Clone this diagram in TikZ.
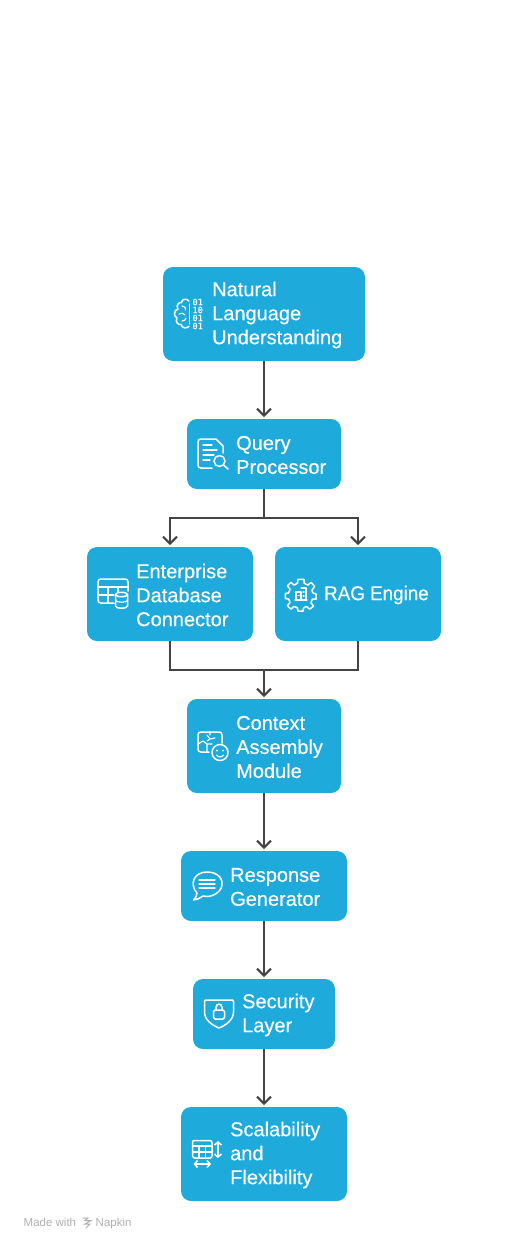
\documentclass[tikz,border=0pt]{standalone}
\usepackage{fontspec}
\setmainfont{Liberation Sans}
\newfontfamily\boxfont[FakeBold=0.3]{Liberation Sans}
\newfontfamily\digitfont[FakeBold=0.5]{DejaVu Sans Mono}
\usetikzlibrary{arrows.meta}
\definecolor{boxblue}{RGB}{30,171,219}
\definecolor{linegray}{RGB}{68,68,68}
\definecolor{footgray}{RGB}{176,176,176}
\tikzset{
  flowbox/.style={fill=boxblue,draw=none,rounded corners=10pt,inner sep=0pt,outer sep=0pt},
  boxtext/.style={text=white,anchor=west,align=left,inner sep=0pt,font=\boxfont\fontsize{20}{24}\selectfont},
  flow/.style={draw=linegray,line width=2pt},
  flowarrow/.style={flow,-{Straight Barb[length=7pt,width=14pt,line width=2pt]},shorten >=2pt},
  ico/.style={draw=white,line width=1.5pt,line cap=round,line join=round},
  icofine/.style={draw=white,line width=1.1pt,line cap=round,line join=round},
  digit/.style={text=white,inner sep=0pt,font=\digitfont\fontsize{8.6}{9}\selectfont},
  foot/.style={text=footgray,anchor=base west,inner sep=0pt,font=\fontsize{11.5}{12}\selectfont}
}
\newcommand{\flowbox}[6]{% name, x1, y1, x2, y2, unused
  \node[flowbox,minimum width=#4pt-#2pt,minimum height=#5pt-#3pt] (#1) at ({(#2+#4)/2},{(#3+#5)/2}) {};}
\begin{document}
\begin{tikzpicture}[x=1pt,y=-1pt]
\useasboundingbox[fill=white] (0,0) rectangle (528,1250);
% boxes
\flowbox{nlu}{163}{267}{365}{361}{}
\flowbox{qp}{187}{419}{341}{489}{}
\flowbox{edc}{87}{547}{253}{641}{}
\flowbox{rag}{275}{547}{441}{641}{}
\flowbox{cam}{187}{699}{341}{793}{}
\flowbox{rg}{181}{851}{347}{921}{}
\flowbox{sl}{193}{979}{335}{1049}{}
\flowbox{sf}{181}{1107}{347}{1201}{}
% texts
\node[boxtext] (tnlu) at (212,315) {Natural\\Language\\Understanding};
\node[boxtext] (tqp) at (236,455) {Query\\Processor};
\node[boxtext] (tedc) at (136,595) {Enterprise\\Database\\Connector};
\node[boxtext] (trag) at (324,595) {\scalebox{0.94}[1]{RAG Engine}};
\node[boxtext] (tcam) at (236,747) {Context\\Assembly\\Module};
\node[boxtext] (trg) at (230,887) {Response\\Generator};
\node[boxtext] (tsl) at (242,1015) {Security\\Layer};
\node[boxtext] (tsf) at (230,1155) {Scalability\\and\\Flexibility};
% connectors
\coordinate (split) at (264,518);
\coordinate (merge) at (264,670);
\draw[flowarrow] (nlu) -- (qp);
\draw[flow] (qp) -- (split);
\draw[flowarrow] (split) -| (edc);
\draw[flowarrow] (split) -| (rag);
\draw[flow] (edc) |- (merge);
\draw[flow] (rag) |- (merge);
\draw[flowarrow] (merge) -- (cam);
\draw[flowarrow] (cam) -- (rg);
\draw[flowarrow] (rg) -- (sl);
\draw[flowarrow] (sl) -- (sf);
% icon: brain and digits
\draw[ico] (189,301) .. controls (186,298) and (182,299) .. (181.5,302.5)
  .. controls (178,302) and (176,306) .. (178,309)
  .. controls (174,310) and (173,316) .. (177,318)
  .. controls (175,322) and (178,325) .. (181,324.5)
  .. controls (182,328) and (186,329) .. (189,326.5);
\draw[icofine] (189.5,304) -- (189.5,324);
\draw[icofine] (182,306) .. controls (185,306) and (186,308) .. (185.5,310)
  (179,314) .. controls (181,312.5) and (184,313) .. (185,315)
  (182,321) .. controls (184,321) and (186,320) .. (186,318);
\node[digit] (d1) at (197.7,302) {01};
\node[digit] (d2) at (197.7,310) {10};
\node[digit] (d3) at (197.7,318) {01};
\node[digit] (d4) at (197.7,326) {01};
% icon: document and magnifier
\draw[ico] (212,468) -- (201,468) .. controls (199,468) and (198,467) .. (198,465) -- (198,442)
  .. controls (198,440) and (199,439) .. (201,439) -- (216,439) -- (223,446) -- (223,453);
\draw[icofine] (203,445) -- (212,445) (203,450) -- (217,450) (203,455) -- (214,455) (203,460) -- (210,460);
\draw[ico] (219.5,461) circle[radius=5.5];
\draw[ico] (223.5,465) -- (228,469);
% icon: table and database
\draw[ico] (114,603) -- (101,603) .. controls (99,603) and (98,602) .. (98,600) -- (98,582)
  .. controls (98,580) and (99,579) .. (101,579) -- (125,579) .. controls (127,579) and (128,580) .. (128,582) -- (128,591);
\draw[icofine] (98,587) -- (128,587) (98,595) -- (114,595) (108,587) -- (108,603) (118,587) -- (118,592);
\draw[ico] (121.5,594.5) ellipse[x radius=6,y radius=2.2];
\draw[ico] (115.5,594.5) -- (115.5,606) .. controls (115.5,609) and (127.5,609) .. (127.5,606) -- (127.5,594.5);
\draw[icofine] (115.5,600) .. controls (115.5,603) and (127.5,603) .. (127.5,600);
% icon: gear
\draw[ico] plot[smooth cycle,tension=0.3] coordinates {
  (304,579.5) (304,583) (308,585) (311,582.5) (314.5,586.5) (312,590) (313,593) (316,594)
  (316,599) (312.5,599) (311,603) (313.5,606) (309.5,609) (306.5,606.5) (303.5,608) (303,611)
  (298,611) (297.5,608) (294,606.5) (291,609) (287.5,605.5) (290,602.5) (288.5,599) (285.5,598.5)
  (285.5,593.5) (288.5,593) (290,589) (287.5,586) (291,582.5) (294,585) (297.5,583) (298,579.5)};
\draw[icofine] (296,600) -- (296,592) -- (301,592) -- (301,600) (301,588) -- (306,588) -- (306,600) (295,600) -- (307,600);
\draw[icofine] (303,592) -- (304,592) (303,596) -- (304,596) (298,595.5) -- (299,595.5);
% icon: puzzle and smile
\draw[ico] (209,752) -- (201,752) .. controls (199,752) and (198,751) .. (198,749) -- (198,735)
  .. controls (198,733) and (199,732) .. (201,732) -- (219,732) .. controls (221,732) and (222,733) .. (222,735) -- (222,743);
\draw[icofine] (198,744) -- (203,741) -- (207,744) -- (207,752) (207,744) -- (212,744) (207,735) -- (210,739) -- (207,741) (210,732) -- (210,735) (210,739) -- (215,738);
\draw[ico] (220,752.5) circle[radius=8];
\fill[white] (217,750.5) circle[radius=1] (223,750.5) circle[radius=1];
\draw[icofine] (216.5,755) .. controls (218,757.5) and (222,757.5) .. (223.5,755);
% icon: speech bubble
\draw[ico] (197,893) .. controls (189,884) and (194,872) .. (207,872)
  .. controls (219,872) and (223,880) .. (222,885) .. controls (221,893) and (211,898) .. (203,896)
  .. controls (200,898) and (197,900) .. (193.5,900) .. controls (195.5,898) and (197,896) .. (197,893) -- cycle;
\draw[icofine] (199,880) -- (215,880) (199,884) -- (215,884) (199,888) -- (215,888);
% icon: shield and lock
\draw[ico] (206,1000) .. controls (214,1000) and (224,1000) .. (232,1000) .. controls (233,1000) and (233.5,1000.5) .. (233.5,1002) -- (233.5,1012) .. controls (233.5,1020) and (226,1025) .. (219,1028)
  .. controls (212,1025) and (204.5,1020) .. (204.5,1012) -- (204.5,1002) .. controls (204.5,1000.5) and (205,1000) .. (206,1000) -- cycle;
\draw[ico,rounded corners=1.5pt] (213.5,1010) rectangle (224.5,1019);
\draw[ico] (216,1010) -- (216,1007.5) .. controls (216,1003) and (222,1003) .. (222,1007.5) -- (222,1010);
% icon: table and arrows
\draw[ico] (194,1140.5) -- (210,1140.5) .. controls (211,1140.5) and (212,1141.5) .. (212,1142.5) -- (212,1156)
  .. controls (212,1157) and (211,1158) .. (210,1158) -- (195,1158) .. controls (194,1158) and (192.5,1157) .. (192.5,1156) -- (192.5,1142.5) .. controls (192.5,1141.5) and (193,1140.5) .. (194,1140.5);
\draw[icofine] (192.5,1146) -- (212,1146) (192.5,1152) -- (212,1152) (199,1146) -- (199,1158) (205.5,1146) -- (205.5,1158);
\draw[ico,{Straight Barb[length=3pt,width=7pt]}-{Straight Barb[length=3pt,width=7pt]}] (218,1141) -- (218,1158);
\draw[ico,{Straight Barb[length=3pt,width=7pt]}-{Straight Barb[length=3pt,width=7pt]}] (193.5,1164) -- (211,1164);
% footer
\node[foot] (made) at (23.5,1226) {Made with};
\node[foot] (napkin) at (95.5,1226) {Napkin};
\draw[footgray,line width=1pt,line cap=round] (83,1218) -- (88,1218) -- (85,1220.5) -- (91,1220.5) -- (85,1224) -- (90,1224) -- (86,1228);
\end{tikzpicture}
\end{document}
